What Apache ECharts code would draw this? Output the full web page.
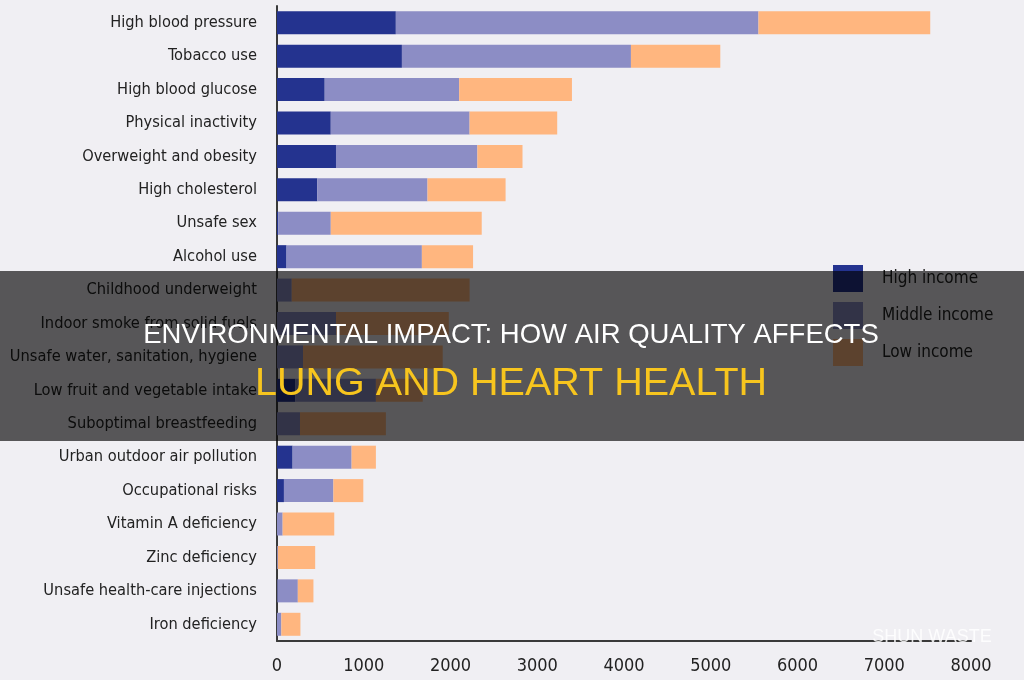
<!DOCTYPE html>
<html>
<head>
<meta charset="utf-8">
<script src="https://cdn.jsdelivr.net/npm/echarts@6/dist/echarts.min.js"></script>
<style>
  html, body { margin: 0; padding: 0; background: #f0eff3; }
  #chart { width: 1024px; height: 680px; }
</style>
</head>
<body>
<div id="chart"></div>
<script>
// data (deaths, thousands)
const categories = [
    'High blood pressure', 'Tobacco use', 'High blood glucose', 'Physical inactivity',
    'Overweight and obesity', 'High cholesterol', 'Unsafe sex', 'Alcohol use',
    'Childhood underweight', 'Indoor smoke from solid fuels', 'Unsafe water, sanitation, hygiene',
    'Low fruit and vegetable intake', 'Suboptimal breastfeeding', 'Urban outdoor air pollution',
    'Occupational risks', 'Vitamin A deficiency', 'Zinc deficiency',
    'Unsafe health-care injections', 'Iron deficiency'
]
const highIncome   = [1370, 1440, 550, 620, 680, 465, 15, 110, 0, 0, 0, 210, 0, 180, 80, 0, 0, 5, 0]
const middleIncome = [4180, 2640, 1550, 1600, 1630, 1270, 605, 1560, 170, 680, 300, 930, 265, 680, 570, 65, 10, 235, 50]
const lowIncome    = [1980, 1030, 1300, 1010, 520, 900, 1740, 590, 2050, 1300, 1610, 540, 990, 280, 345, 595, 430, 180, 220]
const seriesNames = ['High income', 'Middle income', 'Low income']
const colors = ['#24338f', '#8c8dc5', '#ffb67f']

const labelFont = '"Liberation Sans Narrow", "DejaVu Sans Condensed", sans-serif'

const chart = echarts.init(document.getElementById('chart'))

const makeSeries = (name, data, i) => ({
    name: name,
    type: 'bar',
    stack: 'total',
    barWidth: 23,
    itemStyle: { color: colors[i] },
    data: data
})

const option = {
    backgroundColor: '#f0eff3',
    animation: false,
    grid: { left: 277, right: 53, top: 6, bottom: 39, containLabel: false, outerBoundsMode: 'none' },
    legend: {
        orient: 'vertical',
        left: 828,
        top: 260,
        itemWidth: 30,
        itemHeight: 27,
        itemGap: 10,
        icon: 'rect',
        z: 2,
        textStyle: { fontFamily: labelFont, fontSize: 17, color: '#222', padding: [0, 0, 0, 14] },
        data: seriesNames
    },
    xAxis: {
        type: 'value',
        min: 0,
        max: 8000,
        interval: 1000,
        splitLine: { show: false },
        axisTick: { show: false },
        axisLine: { show: true, lineStyle: { color: '#3a3a3a', width: 2 } },
        axisLabel: {
            fontFamily: labelFont, fontSize: 18, color: '#222', margin: 16,
            formatter: v => String(v)
        }
    },
    yAxis: {
        type: 'category',
        inverse: true,
        data: categories,
        axisTick: { show: false },
        axisLine: { show: true, lineStyle: { color: '#3a3a3a', width: 2 } },
        axisLabel: { fontFamily: labelFont, fontSize: 16.3, color: '#222', margin: 20 }
    },
    series: [
        makeSeries(seriesNames[0], highIncome, 0),
        makeSeries(seriesNames[1], middleIncome, 1),
        makeSeries(seriesNames[2], lowIncome, 2)
    ],
    graphic: {
        elements: [
            {
                // dark band behind the headline
                type: 'rect',
                z: 100,
                shape: { x: 0, y: 271, width: 1024, height: 170 },
                style: { fill: 'rgba(0,0,0,0.64)' }
            },
            {
                type: 'text',
                z: 101,
                style: {
                    x: 511, y: 335,
                    text: 'ENVIRONMENTAL IMPACT: HOW AIR QUALITY AFFECTS',
                    fill: '#ffffff',
                    font: '27.5px "Liberation Sans", Arial, sans-serif',
                    align: 'center',
                    verticalAlign: 'middle'
                }
            },
            {
                type: 'text',
                z: 101,
                style: {
                    x: 511, y: 384,
                    text: 'LUNG AND HEART HEALTH',
                    fill: '#f7c51e',
                    font: '39.5px "Liberation Sans", Arial, sans-serif',
                    align: 'center',
                    verticalAlign: 'middle'
                }
            },
            {
                type: 'text',
                z: 101,
                style: {
                    x: 932, y: 637,
                    text: 'SHUN WASTE',
                    fill: 'rgba(255,255,255,0.85)',
                    font: '18px "Liberation Sans", Arial, sans-serif',
                    align: 'center',
                    verticalAlign: 'middle'
                }
            }
        ]
    }
}

chart.setOption(option)
</script>
</body>
</html>
